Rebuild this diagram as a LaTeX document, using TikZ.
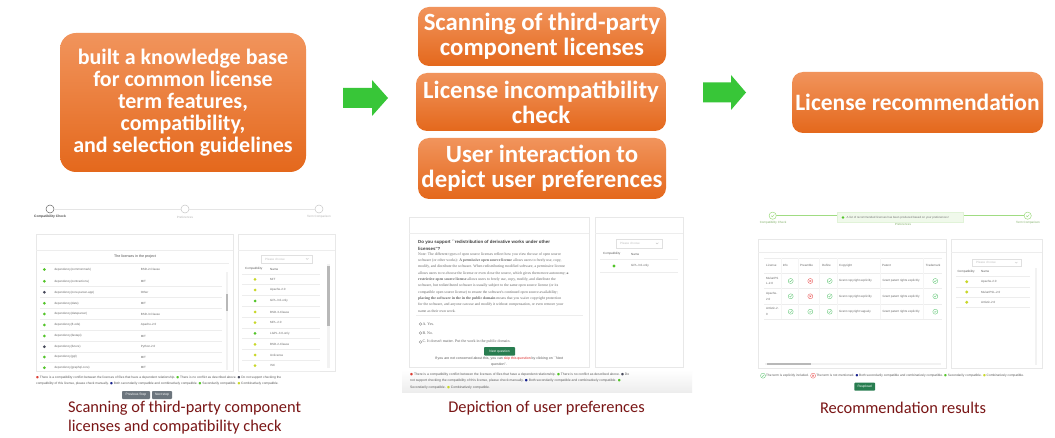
\documentclass[tikz,border=0pt]{standalone}
\usepackage{fontspec}
\setmainfont{Carlito}
\newfontfamily\uif{Liberation Sans}
\newfontfamily\uis{Liberation Serif}
\newfontfamily\djv{DejaVu Sans}
\usetikzlibrary{calc}
\definecolor{otop}{RGB}{241,148,92}
\definecolor{obot}{RGB}{228,104,28}
\definecolor{garr}{RGB}{56,198,56}
\definecolor{capc}{RGB}{122,22,22}
\definecolor{txg}{RGB}{105,105,105}
\definecolor{dg}{RGB}{82,196,40}
\definecolor{dy}{RGB}{200,215,40}
\definecolor{dk}{RGB}{70,72,90}
\definecolor{dr}{RGB}{220,60,50}
\definecolor{db}{RGB}{20,30,140}
\definecolor{icg}{RGB}{100,200,120}
\definecolor{icr}{RGB}{235,90,90}
\definecolor{btng}{RGB}{40,125,80}
\definecolor{btngray}{RGB}{108,117,125}
\definecolor{lgreen}{RGB}{160,220,130}
\definecolor{skipred}{RGB}{220,40,40}
\newcommand\bul[1]{{\djv\textcolor{#1}{●}}}
\tikzset{
  okic/.pic={\draw[icg,line width=0.35pt] (0,0) circle (2.5);
             \draw[icg,line width=0.35pt] (-1.1,0) -- (-0.3,0.8) -- (1.2,-0.9);},
  noic/.pic={\draw[icr,line width=0.35pt] (0,0) circle (2.5);
             \draw[icr,line width=0.35pt] (-0.9,-0.9) -- (0.9,0.9) (-0.9,0.9) -- (0.9,-0.9);},
  stok/.pic={\draw[lgreen,line width=0.5pt,fill=white] (0,0) circle (3.6);
             \draw[lgreen,line width=0.45pt] (-1.5,0) -- (-0.4,1.1) -- (1.6,-1.2);}
}
\begin{document}
\begin{tikzpicture}[x=1pt,y=-1pt,
  obox/.style={rounded corners=11pt, top color=otop, bottom color=obot, text=white, align=center, inner sep=0pt, font=\bfseries\fontsize{24.8}{25}\selectfont},
  garrow/.style={fill=garr},
  captxt/.style={text=capc, font=\fontsize{16.4}{19}\selectfont, inner sep=0pt},
  panel/.style={draw=black!9, fill=white, line width=0.6pt},
  sepl/.style={draw=black!7, line width=0.4pt},
  uitxt/.style={inner sep=0pt, anchor=west, text=txg, font=\uif\fontsize{3}{3.6}\selectfont},
  legtxt/.style={inner sep=0pt, anchor=west, text=black!65, font=\uif\fontsize{3.2}{3.8}\selectfont},
  notetxt/.style={inner sep=0pt, anchor=west, text=black!60, font=\uis\fontsize{3.8}{4.5}\selectfont},
  selbox/.style={draw=black!12, fill=white, line width=0.4pt},
  scrl/.style={fill=black!5},
  thumb/.style={fill=black!28},
  stepc/.style={circle, draw=black!22, line width=0.5pt, minimum size=8pt, inner sep=0pt, fill=white},
  btn/.style={rounded corners=0.8pt, inner sep=0pt, text=white, font=\uif\fontsize{3.3}{4}\selectfont}
]
\useasboundingbox (0,0) rectangle (1055,438);
\fill[white] (0,0) rectangle (1055,438);

% ---------------- orange boxes ----------------
\node[obox, rounded corners=16pt, minimum width=246pt, minimum height=139pt,
      font=\bfseries\fontsize{22}{22}\selectfont] (kb) at (183,102.5)
  {built a knowledge base\\for common license\\term features,\\compatibility,\\and selection guidelines};
\node[obox, minimum width=248pt, minimum height=59pt] (scan) at (542,36.5)
  {Scanning of third-party\\component licenses};
\node[obox, minimum width=250pt, minimum height=58pt] (incomp) at (541,102)
  {License incompatibility\\check};
\node[obox, minimum width=248pt, minimum height=61pt] (pref) at (542,168.5)
  {User interaction to\\depict user preferences};
\node[obox, minimum width=251pt, minimum height=61pt, font=\bfseries\fontsize{23.5}{25}\selectfont] (rec) at (917.5,102.5)
  {License recommendation};

% ---------------- green block arrows ----------------
\coordinate (ar1) at (343,98);
\coordinate (ar2) at (703,92.5);
\fill[garrow] (ar1) ++(0,-10) -- ++(29,0) -- ++(0,-8) -- ++(16,18) -- ++(-16,18) -- ++(0,-8) -- ++(-29,0) -- cycle;
\fill[garrow] (ar2) ++(0,-10) -- ++(28,0) -- ++(0,-7.5) -- ++(15,17.5) -- ++(-15,17.5) -- ++(0,-7.5) -- ++(-28,0) -- cycle;

% =============== screenshot 1 ===============
\node[stepc, draw=black!60] (s1a) at (50,209) {};
\node[stepc] (s1b) at (185,209) {};
\node[stepc] (s1c) at (319,209) {};
\draw[black!10, line width=0.8pt] (s1a) -- (s1b);
\draw[black!10, line width=0.8pt] (s1b) -- (s1c);
\node[uitxt, anchor=center, text=black!70, font=\uif\bfseries\fontsize{3.3}{4}\selectfont] at (50,217) {Compatibility Check};
\node[uitxt, anchor=center, text=black!30] at (185,217) {Preferences};
\node[uitxt, anchor=center, text=black!30] at (319,217) {Term Comparison};

\draw[panel] (36,234) rectangle (233,371);
\draw[sepl] (36,250) -- (233,250);
\node[uitxt, anchor=center, text=black!70, font=\uif\fontsize{3.6}{4}\selectfont] at (135,257) {The licenses in the project};
\draw[sepl] (40,263) -- (229,263);
\begin{scope}
\clip (36,263.5) rectangle (233,370.5);
\fill[dg] (44.3,269.5) circle (1.5);
\node[uitxt] at (54.3,269.5) {dependency(commonmark)};
\node[uitxt] at (140.7,269.5) {BSD-2-Clause};
\foreach \y/\n/\l/\c in {281.3/contractions/MIT/dg, 292.3/core-parser-app/Other/dk,
   303.3/date/MIT/dg, 314/dateparser/BSD-3-Clause/dg, 325/ft-ods/Apache-2.0/dg,
   336/fastapi/MIT/dg, 346.7/future/Python-2.0/dk, 357/gql/MIT/dg, 367.7/graphql-core/MIT/dg}{
  \fill[\c] (44.3,\y) circle (1.5);
  \node[uitxt] at (54.3,\y) {dependency(\n)};
  \node[uitxt] at (140.7,\y) {\l};
  \draw[sepl] (40,\y+5.4) -- (222,\y+5.4);
}
\end{scope}
\fill[scrl] (225.5,272) rectangle (228,370);
\fill[thumb] (225.5,294) rectangle (228,311);

\draw[panel] (238,234) rectangle (335,371);
\draw[sepl] (238,250) -- (335,250);
\draw[selbox] (261,255) rectangle (312,263);
\node[uitxt, text=black!25] at (265,259) {Please choose};
\draw[black!25, line width=0.3pt] (306,258.3) -- (307.2,259.5) -- (308.4,258.3);
\node[uitxt, text=black!65] at (245,269) {Compatibility};
\node[uitxt, text=black!65] at (270,269) {Name};
\draw[sepl] (242,274) -- (320,274);
\foreach \y/\n/\c in {279.3/MIT/dy, 290/Apache-2.0/dy, 301/GPL-3.0-only/dg, 312/BSD-3-Clause/dy,
   322.7/MPL-2.0/dy, 333.3/LGPL-3.0-only/dg, 344.3/BSD-2-Clause/dy, 355/Unlicense/dy, 365.7/ISC/dy}{
  \fill[\c] (255,\y) circle (1.5);
  \node[uitxt] at (270,\y) {\n};
  \draw[sepl] (242,\y+5.3) -- (320,\y+5.3);
}
\fill[scrl] (327,264) rectangle (329.5,368);
\fill[thumb] (327,266) rectangle (329.5,326);

\node[legtxt] at (36,377.7) {\bul{dr} There is a compatibility conflict between the licenses of files that have a dependent relationship. \bul{dg} There is no conflict as described above. \bul{dk} Do not support checking the};
\node[legtxt] at (36,383.3) {compatibility of this license, please check manually. \bul{db} Both secondarily compatible and combinatively compatible. \bul{dg} Secondarily compatible. \bul{dy} Combinatively compatible.};

\node[btn, fill=btngray, minimum width=28pt, minimum height=8pt] (prev) at (136,395) {Previous Step};
\node[btn, fill=btngray, minimum width=20pt, minimum height=8pt] (next) at (162,395) {Next step};

\node[captxt, anchor=west, align=left] (cap1) at (68,417.5) {Scanning of third-party component\\licenses and compatibility check};

% =============== screenshot 2 ===============
\shade[top color=white, bottom color=black!7] (402,370) rectangle (692,392);
\draw[panel] (409,217) rectangle (589,367);
\draw[sepl] (409,233) -- (589,233);
\node[uitxt, text=black!75, font=\uif\bfseries\fontsize{4.4}{5}\selectfont] at (418,242) {Do you support ``redistribution of derivative works under other};
\node[uitxt, text=black!75, font=\uif\bfseries\fontsize{4.4}{5}\selectfont] at (418,248.5) {licenses''?};
\node[notetxt] at (418,254.3) {Note: The different types of open source licenses reflect how you view the use of open source};
\node[notetxt] at (418,260.6) {software (or other works): \textbf{A permissive open source license} allows users to freely use, copy,};
\node[notetxt] at (418,266.9) {modify, and distribute the software. When redistributing modified software, a permissive license};
\node[notetxt] at (418,273.2) {allows users to re-choose the license or even close the source, which gives them more autonomy; \textbf{a}};
\node[notetxt] at (418,279.5) {\textbf{restrictive open source license} allows users to freely use, copy, modify, and distribute the};
\node[notetxt] at (418,285.8) {software, but redistributed software is usually subject to the same open source license (or its};
\node[notetxt] at (418,292.1) {compatible open source license) to ensure the software's continued open source availability;};
\node[notetxt] at (418,298.4) {\textbf{placing the software in the in the public domain} means that you waive copyright protection};
\node[notetxt] at (418,304.7) {for the software, and anyone can use and modify it without compensation, or even remove your};
\node[notetxt] at (418,311) {name as their own work.};
\draw[sepl] (416,315) -- (583,315);
\foreach \y/\o in {324/A. Yes., 333/B. No., 342/C. It doesn't matter. Put the work in the public domain.}{
  \draw[black!45, line width=0.25pt] (420.5,\y) circle (1.4);
  \node[notetxt, font=\uis\fontsize{4}{4.6}\selectfont] at (422.3,\y) {\o};
}
\node[btn, fill=btng, minimum width=31pt, minimum height=8.5pt] (nextq) at (499.5,351.3) {Next question};
\node[uitxt, anchor=center, text=black!65, font=\uif\fontsize{3.5}{4}\selectfont] at (499,359) {If you are not concerned about this, you can \textcolor{skipred}{skip this question} by clicking on ``Next};
\node[uitxt, anchor=center, text=black!65, font=\uif\fontsize{3.5}{4}\selectfont] at (499,365) {question''.};

\draw[panel] (595,217) rectangle (683,367);
\draw[sepl] (595,233) -- (683,233);
\draw[selbox] (616,239) rectangle (662,248);
\node[uitxt, text=black!25] at (620,243.5) {Please choose};
\draw[black!25, line width=0.3pt] (656,242.8) -- (657.2,244) -- (658.4,242.8);
\node[uitxt, text=black!65] at (603,254) {Compatibility};
\node[uitxt, text=black!65] at (631,254) {Name};
\draw[sepl] (600,259.5) -- (678,259.5);
\fill[dg] (614,266) circle (1.6);
\node[uitxt] at (631,266) {GPL-3.0-only};
\draw[sepl] (600,272) -- (678,272);

\node[legtxt, font=\uif\fontsize{3.35}{4}\selectfont] at (410,374.3) {\bul{dr} There is a compatibility conflict between the licenses of files that have a dependent relationship. \bul{dg} There is no conflict as described above. \bul{dk} Do};
\node[legtxt, font=\uif\fontsize{3.35}{4}\selectfont] at (410,381) {not support checking the compatibility of this license, please check manually. \bul{db} Both secondarily compatible and combinatively compatible. \bul{dg}};
\node[legtxt, font=\uif\fontsize{3.35}{4}\selectfont] at (410,387.3) {Secondarily compatible. \bul{dy} Combinatively compatible.};

\node[captxt] (cap2) at (546.5,408) {Depiction of user preferences};

% =============== screenshot 3 ===============
\draw[lgreen, line width=0.8pt] (776,215.7) -- (1024,215.7);
\pic at (772.7,215.7) {stok};
\pic at (1027.7,215.7) {stok};
\node[uitxt, anchor=center, text=lgreen!80!black] at (773,222.7) {Compatibility Check};
\node[uitxt, anchor=center, text=lgreen!80!black] at (1028,222.7) {Term Comparison};
\node[uitxt, anchor=center, text=lgreen!80!black] at (903,224.5) {Preferences};
\draw[fill={rgb,255:red,240;green,249;blue,235}, draw={rgb,255:red,225;green,243;blue,216}, line width=0.3pt] (837,212.5) rectangle (963,222.5);
\fill[dg] (843,217.5) circle (1.4);
\node[uitxt, text=black!55, font=\uif\fontsize{2.9}{3.4}\selectfont] at (846.5,217.5) {A list of recommended licenses has been produced based on your preferences!};

\draw[panel] (758,239) rectangle (946,368);
\draw[sepl] (758,252) -- (946,252);
\draw[sepl] (764,258) -- (942,258);
\foreach \x/\h in {766/License, 782.7/Info, 800/Preamble, 822/Define, 839/Copyright, 882/Patent, 925.7/Trademark}{
  \node[uitxt, text=black!60] at (\x,265.7) {\h};
}
\foreach \y in {273.3, 288.3, 304, 319.3}{ \draw[sepl] (764,\y) -- (942,\y); }
\foreach \x in {780.7, 798, 819, 836.7, 880, 923.3}{ \draw[black!4, line width=0.3pt] (\x,258) -- (\x,319.3); }
\node[uitxt, align=left, font=\uif\fontsize{3}{5.7}\selectfont] at (766,281) {MulanPS\\L-2.0};
\node[uitxt, align=left, font=\uif\fontsize{3}{5.7}\selectfont] at (766,296.3) {Apache-\\2.0};
\node[uitxt, align=left, font=\uif\fontsize{3}{5.7}\selectfont] at (766,311.7) {Artistic-2.\\0};
\foreach \y/\a/\b/\c/\cp in {281/okic/noic/okic/explicitly, 296.3/okic/noic/okic/explicitly, 311.7/okic/okic/okic/vaguely}{
  \pic at (790.7,\y) {\a};
  \pic at (810.3,\y) {\b};
  \pic at (829.7,\y) {\c};
  \node[uitxt] at (839,\y) {Grant copyright \cp};
  \node[uitxt] at (882.3,\y) {Grant patent rights explicitly};
  \pic at (935.3,\y) {okic};
}
\fill[scrl] (765,362.8) rectangle (940.7,365.2);
\fill[thumb] (766.7,362.8) rectangle (811,365.2);

\draw[panel] (951,239) rectangle (1042,368);
\draw[sepl] (951,252) -- (1042,252);
\draw[selbox] (972,259) rectangle (1020.7,266.5);
\node[uitxt, text=black!25] at (976,262.7) {Please choose};
\draw[black!25, line width=0.3pt] (1015,262) -- (1016.2,263.2) -- (1017.4,262);
\node[uitxt, text=black!65] at (957.3,271.7) {Compatibility};
\node[uitxt, text=black!65] at (981,271.7) {Name};
\draw[sepl] (956,276.5) -- (1030,276.5);
\foreach \y/\n in {281.7/Apache-2.0, 292/MulanPSL-2.0, 302.3/Artistic-2.0}{
  \fill[dy] (966.7,\y) circle (1.6);
  \node[uitxt] at (981,\y) {\n};
  \draw[sepl] (956,\y+5.2) -- (1030,\y+5.2);
}
\fill[scrl] (1034.8,268) rectangle (1037.2,365);

\pic at (763,375.7) {okic};
\node[legtxt] (l3a) at (766,375.7) {The term is explicitly included.};
\pic at ($(l3a.east)+(4,0)$) {noic};
\node[legtxt] (l3b) at ($(l3a.east)+(7,0)$) {The term is not mentioned. \bul{db} Both secondarily compatible and combinatively compatible. \bul{dg} Secondarily compatible. \bul{dy} Combinatively compatible.};

\node[btn, fill=btng, minimum width=20.7pt, minimum height=8pt] (reup) at (864.7,386.7) {Reupload};

\node[captxt] (cap3) at (903,408) {Recommendation results};
\end{tikzpicture}
\end{document}
